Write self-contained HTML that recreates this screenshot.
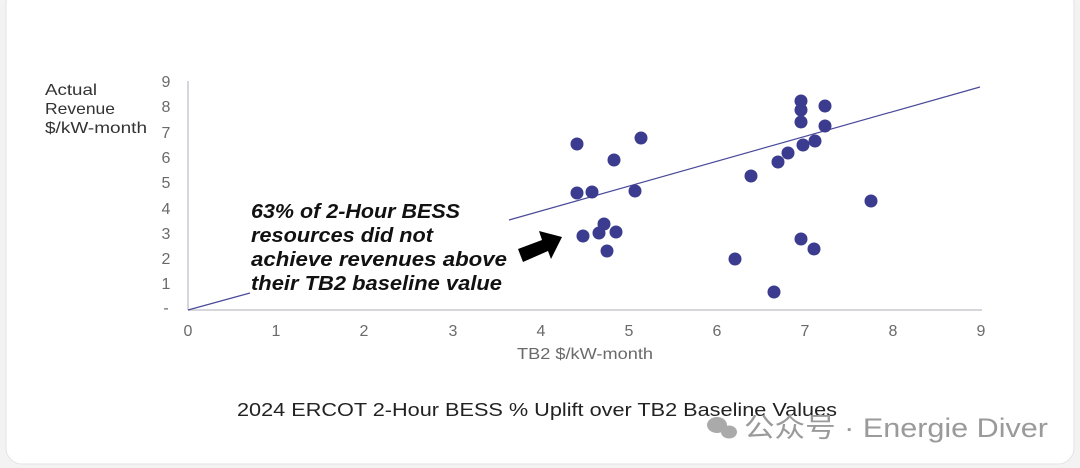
<!DOCTYPE html>
<html><head><meta charset="utf-8"><style>
html,body{margin:0;padding:0;width:1080px;height:468px;overflow:hidden;background:#f3f3f3;font-family:"Liberation Sans","Noto Sans CJK SC",sans-serif;}
</style></head><body>
<svg width="1080" height="468" xmlns="http://www.w3.org/2000/svg" font-family="Liberation Sans, Noto Sans CJK SC, sans-serif">
<rect x="6" y="-12" width="1068" height="476" rx="16" fill="#fff" stroke="#e3e3e3"/>
<line x1="188" y1="81" x2="188" y2="310" stroke="#d6d6dc" stroke-width="2"/>
<line x1="188" y1="310" x2="982" y2="310" stroke="#d6d6dc" stroke-width="2"/>
<g fill="#6a6a6a" font-size="16" text-anchor="middle">
<text x="188" y="336">0</text><text x="276" y="336">1</text><text x="364" y="336">2</text><text x="453" y="336">3</text><text x="541" y="336">4</text><text x="629" y="336">5</text><text x="717" y="336">6</text><text x="805" y="336">7</text><text x="893" y="336">8</text><text x="981" y="336">9</text>
</g>
<g fill="#6a6a6a" font-size="16" text-anchor="middle">
<text x="166" y="87">9</text><text x="166" y="112">8</text><text x="166" y="138">7</text><text x="166" y="163">6</text><text x="166" y="188">5</text><text x="166" y="214">4</text><text x="166" y="239">3</text><text x="166" y="264">2</text><text x="166" y="289">1</text><text x="166" y="313">-</text>
</g>
<g fill="#333" font-size="16"><text x="45" y="95" textLength="52" lengthAdjust="spacingAndGlyphs">Actual</text><text x="45" y="114" textLength="70" lengthAdjust="spacingAndGlyphs">Revenue</text><text x="45" y="133" textLength="102" lengthAdjust="spacingAndGlyphs">$/kW-month</text></g>
<text x="517" y="359" fill="#6a6a6a" font-size="15.5" textLength="136" lengthAdjust="spacingAndGlyphs">TB2 $/kW-month</text>
<line x1="188" y1="310" x2="250" y2="293" stroke="#4a4a9a" stroke-width="1.2"/>
<line x1="509" y1="220" x2="980" y2="87" stroke="#4a4a9a" stroke-width="1.2"/>
<g fill="#3b3b8f">
<circle cx="577" cy="144" r="6.5"/><circle cx="641" cy="138" r="6.5"/><circle cx="614" cy="160" r="6.5"/><circle cx="577" cy="193" r="6.5"/><circle cx="592" cy="192" r="6.5"/><circle cx="635" cy="191" r="6.5"/><circle cx="604" cy="224" r="6.5"/><circle cx="599" cy="233" r="6.5"/><circle cx="616" cy="232" r="6.5"/><circle cx="583" cy="236" r="6.5"/><circle cx="607" cy="251" r="6.5"/><circle cx="751" cy="176" r="6.5"/><circle cx="778" cy="162" r="6.5"/><circle cx="788" cy="153" r="6.5"/><circle cx="803" cy="145" r="6.5"/><circle cx="815" cy="141" r="6.5"/><circle cx="801" cy="101" r="6.5"/><circle cx="801" cy="110" r="6.5"/><circle cx="801" cy="122" r="6.5"/><circle cx="825" cy="106" r="6.5"/><circle cx="825" cy="126" r="6.5"/><circle cx="871" cy="201" r="6.5"/><circle cx="801" cy="239" r="6.5"/><circle cx="814" cy="249" r="6.5"/><circle cx="735" cy="259" r="6.5"/><circle cx="774" cy="292" r="6.5"/>
</g>
<g font-size="20.5" font-weight="bold" font-style="italic" fill="#111">
<text x="251" y="218" textLength="209" lengthAdjust="spacingAndGlyphs">63% of 2-Hour BESS</text><text x="251" y="242" textLength="182" lengthAdjust="spacingAndGlyphs">resources did not</text><text x="251" y="266" textLength="256" lengthAdjust="spacingAndGlyphs">achieve revenues above</text><text x="251" y="290" textLength="251" lengthAdjust="spacingAndGlyphs">their TB2 baseline value</text>
</g>
<polygon points="518,249 542,240 539,231 562,237 551,259 548,251 523,262" fill="#000"/>
<text x="237" y="416" fill="#222" font-size="18" textLength="600" lengthAdjust="spacingAndGlyphs">2024 ERCOT 2-Hour BESS % Uplift over TB2 Baseline Values</text>
<g fill="#aaa"><ellipse cx="717" cy="425" rx="10" ry="8"/><ellipse cx="729" cy="432" rx="8" ry="6.5"/></g>
<text x="744" y="437" fill="#9a9a9a" font-size="27" textLength="304" lengthAdjust="spacingAndGlyphs">公众号 · Energie Diver</text>
</svg>
</body></html>
